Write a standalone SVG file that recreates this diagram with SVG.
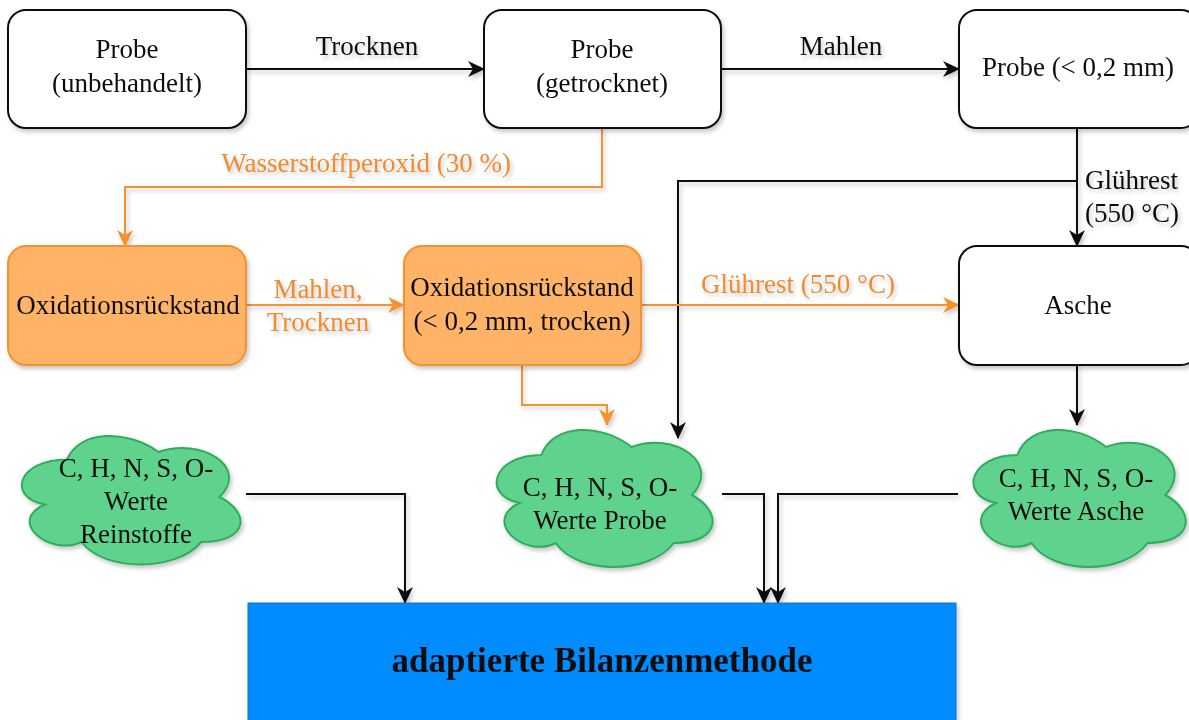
<svg xmlns="http://www.w3.org/2000/svg" width="1189" height="720" viewBox="0 0 1189 720">
<style>
.t{font-family:"Liberation Serif","Times New Roman",serif;font-size:27px;fill:#111;text-anchor:middle}
.o{fill:#F08B2E}
.box{fill:#fff;stroke:#111;stroke-width:2}
.obox{fill:#FFB366;stroke:#F5922F;stroke-width:2}
.cloud{fill:#5FD38D;stroke:#2EAD5A;stroke-width:2}
.e{fill:none;stroke:#111;stroke-width:2}
.eo{fill:none;stroke:#F5922F;stroke-width:2}
</style>
<defs>
<filter id="sh" x="-10%" y="-10%" width="130%" height="130%">
<feDropShadow dx="2" dy="3" stdDeviation="2" flood-color="#000" flood-opacity="0.22"/>
</filter>
<marker id="ab" markerUnits="userSpaceOnUse" markerWidth="17" markerHeight="16" viewBox="0 0 17 16" refX="16" refY="8" orient="auto">
<path d="M0,0 L17,8 L0,16 L5,8 Z" fill="#111"/>
</marker>
<marker id="ao" markerUnits="userSpaceOnUse" markerWidth="17" markerHeight="16" viewBox="0 0 17 16" refX="16" refY="8" orient="auto">
<path d="M0,0 L17,8 L0,16 L5,8 Z" fill="#F5922F"/>
</marker>
</defs>
<rect width="1189" height="720" fill="#fff"/>

<g id="connectors" filter="url(#sh)">
<path class="e" d="M246,69 L484,69" marker-end="url(#ab)"/>
<text class="t" x="367" y="55">Trocknen</text>
<path class="e" d="M721,69 L959,69" marker-end="url(#ab)"/>
<text class="t" x="841" y="55">Mahlen</text>
<path class="eo" d="M602,128 L602,187 L125,187 L125,246" marker-end="url(#ao)"/>
<text class="t o" x="366" y="172">Wasserstoffperoxid (30 %)</text>
<path class="e" d="M1077,128 L1077,246" marker-end="url(#ab)"/>
<text class="t" x="1085" y="189" style="text-anchor:start">Glührest</text>
<text class="t" x="1085" y="222" style="text-anchor:start">(550 °C)</text>
<path class="e" d="M1077,181 L678,181 L678,438" marker-end="url(#ab)"/>
<path class="eo" d="M246,305 L404,305" marker-end="url(#ao)"/>
<text class="t o" x="318" y="298">Mahlen,</text>
<text class="t o" x="318" y="331">Trocknen</text>
<path class="eo" d="M641,305 L959,305" marker-end="url(#ao)"/>
<text class="t o" x="798" y="293">Glührest (550 °C)</text>
<path class="eo" d="M522,365 L522,405 L607,405 L607,425" marker-end="url(#ao)"/>
<path class="e" d="M1077,365 L1077,425" marker-end="url(#ab)"/>
<path class="e" d="M246,494 L405,494 L405,603" marker-end="url(#ab)"/>
<path class="e" d="M722,494 L764,494 L764,603" marker-end="url(#ab)"/>
<path class="e" d="M958,494 L778,494 L778,603" marker-end="url(#ab)"/>
</g>

<g id="probe-unbehandelt" filter="url(#sh)">
<rect class="box" x="8" y="10" width="238" height="118" rx="18"/>
<text class="t" x="127" y="58">Probe</text>
<text class="t" x="127" y="92">(unbehandelt)</text>
</g>
<g id="probe-getrocknet" filter="url(#sh)">
<rect class="box" x="484" y="10" width="237" height="118" rx="18"/>
<text class="t" x="602" y="58">Probe</text>
<text class="t" x="602" y="92">(getrocknet)</text>
</g>
<g id="probe-fein" filter="url(#sh)">
<rect class="box" x="959" y="10" width="240" height="118" rx="18"/>
<text class="t" x="1078" y="76">Probe (&lt; 0,2 mm)</text>
</g>
<g id="oxidationsrueckstand" filter="url(#sh)">
<rect class="obox" x="8" y="246" width="238" height="119" rx="18"/>
<text class="t" x="128" y="314">Oxidationsrückstand</text>
</g>
<g id="oxidationsrueckstand-trocken" filter="url(#sh)">
<rect class="obox" x="404" y="246" width="237" height="119" rx="18"/>
<text class="t" x="522" y="296">Oxidationsrückstand</text>
<text class="t" x="522" y="330">(&lt; 0,2 mm, trocken)</text>
</g>
<g id="asche" filter="url(#sh)">
<rect class="box" x="959" y="246" width="240" height="119" rx="18"/>
<text class="t" x="1078" y="314">Asche</text>
</g>
<g id="werte-reinstoffe" filter="url(#sh)">
<path class="cloud" d="M67,459.5 C18.2,459.5 6,497 45,504.5 C6,521 49.9,557 81.6,542 C103.6,572 176.8,572 201.2,542 C250,542 250,512 219.5,497 C250,467 201.2,437 158.5,452 C128,429.5 79.2,429.5 67,459.5 Z"/>
<text class="t" x="136" y="477">C, H, N, S, O-</text>
<text class="t" x="136" y="510">Werte</text>
<text class="t" x="136" y="543">Reinstoffe</text>
</g>
<g id="werte-probe" filter="url(#sh)">
<path class="cloud" d="M541.3,455 C493,455 481,495 519.6,503 C481,520.6 524.4,559 555.7,543 C577.4,575 649.7,575 673.8,543 C722,543 722,511 691.9,495 C722,463 673.8,431 631.6,447 C601.5,423 553.3,423 541.3,455 Z"/>
<text class="t" x="600" y="496">C, H, N, S, O-</text>
<text class="t" x="600" y="529">Werte Probe</text>
</g>
<g id="werte-asche" filter="url(#sh)">
<path class="cloud" d="M1017.3,455 C969.9,455 958,495 995.9,503 C958,520.6 1000.7,559 1031.5,543 C1052.8,575 1123.9,575 1147.6,543 C1195,543 1195,511 1165.4,495 C1195,463 1147.6,431 1106.1,447 C1076.5,423 1029.1,423 1017.3,455 Z"/>
<text class="t" x="1076" y="487">C, H, N, S, O-</text>
<text class="t" x="1076" y="520">Werte Asche</text>
</g>
<g id="bilanzenmethode" filter="url(#sh)">
<rect x="248" y="603" width="708" height="130" fill="#008CFF" stroke="#0A78D8" stroke-width="1"/>
<text class="t" x="602" y="672" style="font-weight:bold;font-size:35px">adaptierte Bilanzenmethode</text>
</g>
</svg>
